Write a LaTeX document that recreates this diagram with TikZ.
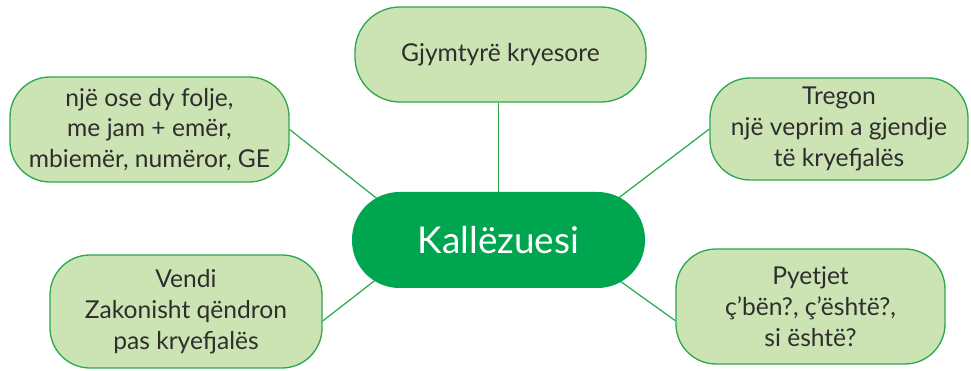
\documentclass[tikz,border=0pt]{standalone}
\usepackage{fontspec}
\setmainfont{Lato}
\usetikzlibrary{positioning, backgrounds, calc}
\definecolor{leafgreen}{HTML}{CCE3B4}
\definecolor{rimgreen}{HTML}{2DA84F}
\definecolor{coregreen}{HTML}{00A64F}
\definecolor{inkgray}{HTML}{2E2E2E}
\tikzset{leaf/.style={draw=rimgreen, fill=leafgreen, line width=0.75pt, rounded corners=0.8cm, align=center, text=inkgray, font=\fontsize{14}{17.5}\selectfont, inner sep=0pt},
core/.style={fill=coregreen, rounded corners=0.95cm, text=white, font=\fontsize{21}{25}\selectfont, minimum width=5.86cm, minimum height=1.92cm},
link/.style={draw=rimgreen, line width=0.7pt}}

\begin{document}
\begin{tikzpicture}
  \useasboundingbox (0,0) rectangle (19.42,7.42);
  % centre
  \node[core] (kal) at (9.97,2.62) {Kallëzuesi};
  % leaves
  \node[leaf, rounded corners=0.9cm, minimum width=5.82cm, minimum height=1.9cm] (gjym) at (10.01,6.33) {Gjymtyrë kryesore};
  \node[leaf, minimum width=5.58cm, minimum height=2.1cm] (forma) at (2.99,4.83) {një ose dy folje,\\ me jam + emër,\\ mbiemër, numëror, GE};
  \node[leaf, minimum width=5.16cm, minimum height=2.04cm] (treg) at (16.78,4.84) {Tregon\\ një veprim a gjendje\\ të kryefjalës};
  \node[leaf, minimum width=5.44cm, minimum height=2.26cm] (vend) at (3.72,1.19) {Vendi\\ Zakonisht qëndron\\ pas kryefjalës};
  \node[leaf, minimum width=5.38cm, minimum height=2.3cm] (pyet) at (16.21,1.29) {Pyetjet\\ ç’bën?, ç’është?,\\ si është?};
  % spokes
  \begin{scope}[on background layer]
    \draw[link] (kal.north) -- (kal.north |- gjym.south);
    \draw[link] (forma.east) -- ($(kal.center)+(-2.42,0.82)$);
    \draw[link] (treg.west) -- ($(kal.center)+(2.40,0.84)$);
    \draw[link] (vend.-4) -- ($(kal.center)+(-2.46,-0.80)$);
    \draw[link] (pyet.186) -- ($(kal.center)+(2.40,-0.80)$);
  \end{scope}
\end{tikzpicture}
\end{document}
